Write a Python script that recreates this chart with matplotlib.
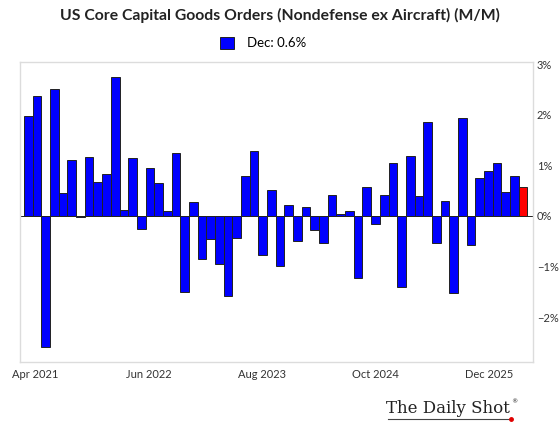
import numpy as np
import pandas as pd
import matplotlib
matplotlib.use("Agg")
import matplotlib.pyplot as plt
from matplotlib.patches import Patch

# monthly M/M % change, Mar 2021 .. Dec 2025
months = pd.date_range("2021-03-01", "2025-12-01", freq="MS")
values = [
    1.97, 2.38, -2.59, 2.52, 0.45, 1.10, -0.02, 1.16, 0.67, 0.84,
    2.75, 0.11, 1.14, -0.26, 0.94, 0.65, 0.09, 1.24, -1.50, 0.28,
    -0.85, -0.46, -0.95, -1.58, -0.44, 0.80, 1.29, -0.77, 0.51, -1.00,
    0.21, -0.49, 0.17, -0.28, -0.54, 0.42, 0.03, 0.09, -1.22, 0.58,
    -0.15, 0.42, 1.04, -1.40, 1.19, 0.40, 1.86, -0.54, 0.30, -1.52,
    1.93, -0.58, 0.75, 0.88, 1.05, 0.47, 0.80, 0.57,
]
tick_labels = ["Apr 2021", "Jun 2022", "Aug 2023", "Oct 2024", "Dec 2025"]
yticks = [-2, -1, 0, 1, 2, 3]
legend_label = "Dec: 0.6%"
title = "US Core Capital Goods Orders (Nondefense ex Aircraft) (M/M)"

x = np.arange(len(months))
colors = ["#0000ff"] * (len(values) - 1) + ["#ff0000"]

fig = plt.figure(figsize=(5.6, 4.3), dpi=100)
fig.set_facecolor("white")
ax = fig.add_axes([0.036, 0.157, 0.915, 0.698])

ax.bar(x, values, width=1.0, color=colors, edgecolor="#222222", linewidth=0.7, zorder=2)
ax.axhline(0, color="#222222", linewidth=0.7, zorder=1)

ax.set_xlim(-0.95, len(x) + 0.1)
ax.set_ylim(-2.9, 3.04)

ax.yaxis.tick_right()
ax.set_yticks(yticks)
ax.set_yticklabels([f"{v}%".replace("-", "\u2212") for v in yticks])
ax.set_xticks(np.linspace(0.75, 53.1, len(tick_labels)))
ax.set_xticklabels(tick_labels)
ax.tick_params(axis="both", length=0, labelsize=8, colors="#333333", labelfontfamily="Lato")
ax.tick_params(axis="y", pad=3)
ax.tick_params(axis="x", pad=5)

for s in ax.spines.values():
    s.set_color("#dcdcdc")
    s.set_linewidth(1.0)

fig.text(0.5, 0.965, title, ha="center", va="center", fontsize=11.3,
         fontweight="bold", family="Lato", color="#222222")
fig.legend(handles=[Patch(facecolor="#0000ff", edgecolor="#222222", linewidth=0.7, label=legend_label)],
           loc="center", bbox_to_anchor=(0.47, 0.9), frameon=False,
           handlelength=1.0, handleheight=1.0, handletextpad=1.0,
           prop={"family": "Lato", "size": 9.5})

# logo
fig.text(0.91, 0.05, "The Daily Shot", ha="right", va="center", fontsize=12,
         family="DejaVu Serif", color="#222222")
fig.text(0.913, 0.066, "\u00ae", ha="left", va="center", fontsize=4.5, color="#222222")
fig.add_artist(plt.Line2D([0.693, 0.912], [0.025, 0.025], transform=fig.transFigure,
                          color="#444444", linewidth=0.8))
fig.add_artist(plt.Line2D([0.912], [0.025], transform=fig.transFigure, marker="o",
                          markersize=2.5, color="#e00000"))

fig.savefig("out.png", dpi=100, facecolor="white")
